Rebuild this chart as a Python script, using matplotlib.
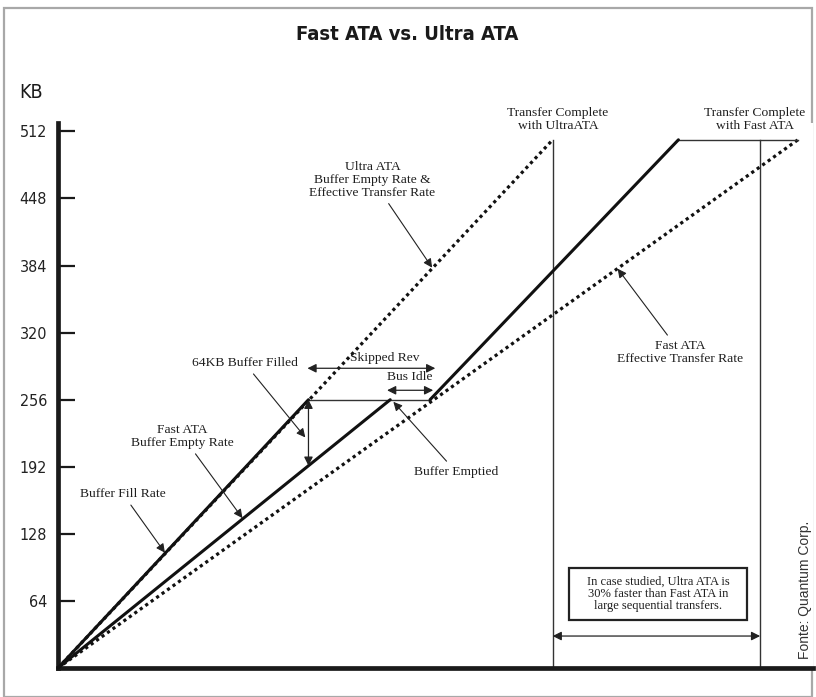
import matplotlib
matplotlib.use("Agg")
import matplotlib.pyplot as plt
from matplotlib import font_manager
from matplotlib.patches import Rectangle

# Transfer timeline (time units) against data moved (KB)
fill_t, fill_kb = [0, 239], [0, 256]                # Buffer fill rate
fast_empty_t, fast_empty_kb = [0, 317], [0, 256]    # Fast ATA buffer empty rate
burst_t, burst_kb = [355, 592], [256, 504]          # second burst after the skipped rev
ultra_eff_t, ultra_eff_kb = [0, 472], [0, 504]      # Ultra ATA effective rate
fast_eff_t, fast_eff_kb = [0, 706], [0, 504]        # Fast ATA effective rate
idle_t, idle_kb = [239, 355], [256, 256]            # bus waiting at 64KB filled
done_t, done_kb = [592, 706], [504, 504]            # flat once Fast ATA is done
ultra_done_t = 472
fast_done_t = 670

y_ticks = [64, 128, 192, 256, 320, 384, 448, 512]

W, H = 816, 697

# a narrow sans for the headings if one is around, otherwise plain DejaVu
names = {f.name for f in font_manager.fontManager.ttflist}
condensed = font_manager.findfont(font_manager.FontProperties(family="DejaVu Sans", stretch="condensed",
                                                               weight="bold"))
if "Liberation Sans Narrow" in names:
    HEAD = dict(family=["Liberation Sans Narrow", "DejaVu Sans"])
    title_size, kb_size, tick_size = 17, 15, 12.5
elif "Condensed" in condensed:
    HEAD = dict(family=["DejaVu Sans"], fontstretch="condensed")
    title_size, kb_size, tick_size = 14.5, 14, 11.5
else:
    HEAD = dict(family=["DejaVu Sans"])
    title_size, kb_size, tick_size = 13.5, 12.5, 10.5
NOTE_FONT = ["Liberation Serif", "DejaVu Serif"]
NOTE = dict(family=NOTE_FONT, fontsize=9.7, color="#1e1e1e", ha="center", va="center")

fig = plt.figure(figsize=(W / 100, H / 100), dpi=100)
fig.patch.set_facecolor("white")

# axes placed so the origin sits at (58, 668) px and 1 KB = 1.048 px
px = 1.048
left, right, bottom, top = 58, 813, 668, 123
ax = fig.add_axes([left / W, (H - bottom) / H, (right - left) / W, (bottom - top) / H])
ax.set_xlim(0, (right - left) / px)
ax.set_ylim(0, (bottom - top) / px)

for side in ["top", "right"]:
    ax.spines[side].set_visible(False)
for side in ["left", "bottom"]:
    ax.spines[side].set_linewidth(3.4)
    ax.spines[side].set_color("#1a1a1a")
    ax.spines[side].set_capstyle("projecting")

ax.set_xticks([])
ax.set_yticks(y_ticks)
ax.set_yticklabels([str(v) for v in y_ticks], fontsize=tick_size, color="#222222", **HEAD)
ax.tick_params(axis="y", direction="in", length=12, width=1.6, color="#1a1a1a", pad=8)

solid = dict(color="#111111", lw=2.2, solid_capstyle="round", clip_on=False, zorder=3)
dotted = dict(color="#111111", lw=2.3, linestyle=(0, (1, 1.1)), clip_on=False, zorder=2)
thin = dict(color="#333333", lw=1.0, clip_on=False, zorder=2)

ax.plot(ultra_eff_t, ultra_eff_kb, **dotted)
ax.plot(fast_eff_t, fast_eff_kb, **dotted)
ax.plot(fill_t, fill_kb, **solid)
ax.plot(fast_empty_t, fast_empty_kb, **solid)
ax.plot(burst_t, burst_kb, **solid)
ax.plot(idle_t, idle_kb, **thin)
ax.plot(done_t, done_kb, **thin)
ax.plot([ultra_done_t, ultra_done_t], [0, ultra_eff_kb[-1]], **thin)
ax.plot([fast_done_t, fast_done_t], [0, done_kb[-1]], **thin)

arrow = dict(arrowstyle="-|>", color="#222222", lw=0.8, mutation_scale=13, shrinkA=2, shrinkB=0)
both = dict(arrowstyle="<|-|>", color="#222222", lw=0.9, mutation_scale=13, shrinkA=0, shrinkB=0)

# labelled pointers
ax.annotate("Buffer Fill Rate", xy=(102, 110), xytext=(62, 166), arrowprops=arrow, **NOTE)
ax.annotate("Fast ATA\nBuffer Empty Rate", xy=(176, 143), xytext=(119, 221),
            arrowprops=arrow, linespacing=1.1, **NOTE)
ax.annotate("64KB Buffer Filled", xy=(236, 220), xytext=(178, 291), arrowprops=arrow, **NOTE)
ax.annotate("Ultra ATA\nBuffer Empty Rate &\nEffective Transfer Rate", xy=(357, 382),
            xytext=(300, 466), arrowprops=arrow, linespacing=1.1, **NOTE)
ax.annotate("Fast ATA\nEffective Transfer Rate", xy=(534, 381), xytext=(594, 301),
            arrowprops=arrow, linespacing=1.1, **NOTE)
ax.annotate("Buffer Emptied", xy=(320, 254), xytext=(380, 187), arrowprops=arrow, **NOTE)

# spans between the two bursts
ax.annotate("", xy=(fill_t[-1], fill_kb[-1]), xytext=(fill_t[-1], 193), arrowprops=both)
ax.annotate("", xy=(238, 286), xytext=(360, 286), arrowprops=both)
ax.text(312, 296, "Skipped Rev", **NOTE)
ax.annotate("", xy=(314, 265), xytext=(358, 265), arrowprops=both)
ax.text(336, 278, "Bus Idle", **NOTE)

ax.text(477, 523, "Transfer Complete\nwith UltraATA", linespacing=1.1, clip_on=False, **NOTE)
ax.text(665, 523, "Transfer Complete\nwith Fast ATA", linespacing=1.1, clip_on=False, **NOTE)

# gap between the two completion times
ax.annotate("", xy=(ultra_done_t, 30.5), xytext=(fast_done_t, 30.5), arrowprops=both)
ax.text(572.5, 70.6, "In case studied, Ultra ATA is\n30% faster than Fast ATA in\nlarge sequential transfers.",
        family=NOTE_FONT, fontsize=9, color="#1e1e1e", ha="center", va="center", linespacing=1.05)
ax.add_patch(Rectangle((487.6, 45.8), 169.8, 49.6, fill=False, ec="#222222", lw=1.6, clip_on=False))

fig.text(407 / W, 1 - 35 / H, "Fast ATA vs. Ultra ATA", fontsize=title_size,
         fontweight="bold", color="#1a1a1a", ha="center", va="center", **HEAD)
fig.text(31 / W, 1 - 92 / H, "KB", fontsize=kb_size, color="#1a1a1a",
         ha="center", va="center", **HEAD)
fig.text(805 / W, 1 - 590 / H, "Fonte: Quantum Corp.", family=["Liberation Sans", "DejaVu Sans"],
         fontsize=10, color="#333333", rotation=90, ha="center", va="center")

# light frame round the whole chart
fig.add_artist(Rectangle((4 / W, 0), 808 / W, 1 - 8 / H, transform=fig.transFigure,
                         fill=False, ec="#a8a8a8", lw=1.6, zorder=0))

fig.savefig("out.png", dpi=100, facecolor="white")
